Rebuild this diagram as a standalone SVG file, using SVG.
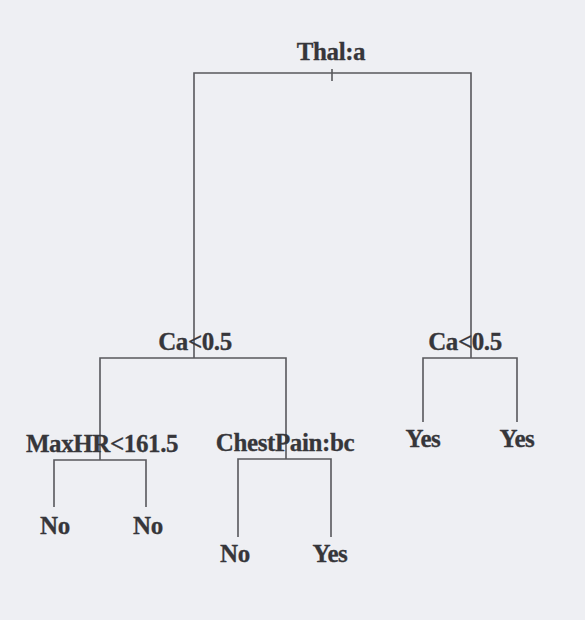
<svg xmlns="http://www.w3.org/2000/svg" width="585" height="620" viewBox="0 0 585 620">
<style>
.lbl{font-family:"Liberation Serif","Times New Roman",serif;font-weight:bold;font-size:25px;fill:#36363a;text-anchor:middle;letter-spacing:-0.4px;stroke:#36363a;stroke-width:0.3}
.edge{stroke:#58585c;stroke-width:1.6;fill:none}
</style>
<rect x="0" y="0" width="585" height="620" fill="#eeeff3"/>
<g id="connectors">
<path class="edge" d="M194,358 V73 H471 V358"/>
<path class="edge" d="M332,69 V81"/>
<path class="edge" d="M100,460 V358 H286 V459"/>
<path class="edge" d="M54,507 V460 H146 V507"/>
<path class="edge" d="M238,537 V459 H331 V537"/>
<path class="edge" d="M423,422 V358 H517 V422"/>
</g>
<g id="n_thal"><text class="lbl" x="331" y="60">Thal:a</text></g>
<g id="n_ca_left"><text class="lbl" x="195" y="350">Ca&lt;0.5</text></g>
<g id="n_ca_right"><text class="lbl" x="465" y="350">Ca&lt;0.5</text></g>
<g id="n_maxhr"><text class="lbl" x="102" y="452">MaxHR&lt;161.5</text></g>
<g id="n_chestpain"><text class="lbl" x="285" y="451">ChestPain:bc</text></g>
<g id="n_no1"><text class="lbl" x="55" y="534">No</text></g>
<g id="n_no2"><text class="lbl" x="148" y="534">No</text></g>
<g id="n_no3"><text class="lbl" x="235" y="562">No</text></g>
<g id="n_yes1"><text class="lbl" x="330" y="562">Yes</text></g>
<g id="n_yes2"><text class="lbl" x="423" y="447">Yes</text></g>
<g id="n_yes3"><text class="lbl" x="517" y="447">Yes</text></g>
</svg>
